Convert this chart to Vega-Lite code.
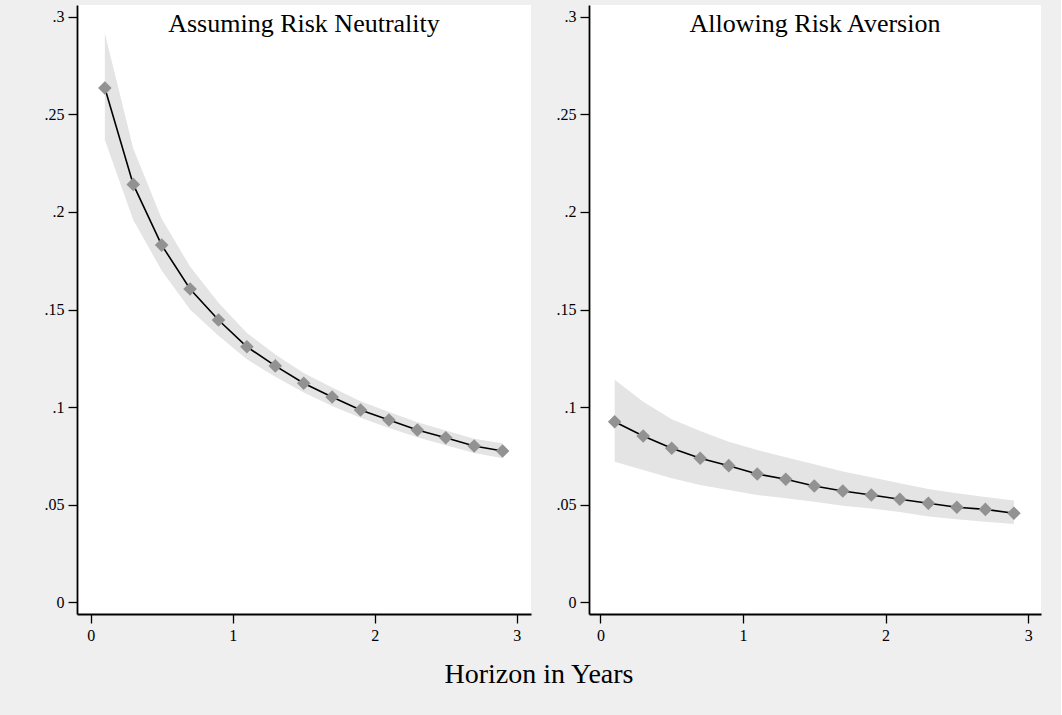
{
  "$schema": "https://vega.github.io/schema/vega-lite/v6.json",
  "background": "#efefef",
  "padding": {"left": 37, "top": 5, "right": 20, "bottom": 27},
  "spacing": 18,
  "config": {
    "view": {"fill": "white", "stroke": null},
    "font": "Liberation Serif",
    "axis": {"domainColor": "black", "domainWidth": 1.8, "tickColor": "black", "tickWidth": 1.3, "labelColor": "black", "labelFont": "Liberation Serif", "labelFontSize": 16, "grid": false},
    "axisY": {"tickSize": 9, "labelPadding": 4, "minExtent": 40, "maxExtent": 40},
    "axisX": {"tickSize": 9, "labelPadding": 4},
    "title": {"font": "Liberation Serif", "fontWeight": "normal", "color": "black"}
  },
  "datasets": {
    "left": [
      {"h": 0.1, "mid": 0.2635, "lo": 0.2368, "hi": 0.2915},
      {"h": 0.3, "mid": 0.2141, "lo": 0.1958, "hi": 0.2325},
      {"h": 0.5, "mid": 0.1830, "lo": 0.1700, "hi": 0.1965},
      {"h": 0.7, "mid": 0.1605, "lo": 0.1500, "hi": 0.1720},
      {"h": 0.9, "mid": 0.1446, "lo": 0.1365, "hi": 0.1535},
      {"h": 1.1, "mid": 0.1309, "lo": 0.1245, "hi": 0.1380},
      {"h": 1.3, "mid": 0.1211, "lo": 0.1155, "hi": 0.1270},
      {"h": 1.5, "mid": 0.1122, "lo": 0.1075, "hi": 0.1175},
      {"h": 1.7, "mid": 0.1052, "lo": 0.1005, "hi": 0.1100},
      {"h": 1.9, "mid": 0.0985, "lo": 0.0945, "hi": 0.1030},
      {"h": 2.1, "mid": 0.0934, "lo": 0.0893, "hi": 0.0975},
      {"h": 2.3, "mid": 0.0883, "lo": 0.0845, "hi": 0.0922},
      {"h": 2.5, "mid": 0.0843, "lo": 0.0805, "hi": 0.0880},
      {"h": 2.7, "mid": 0.0801, "lo": 0.0765, "hi": 0.0838},
      {"h": 2.9, "mid": 0.0775, "lo": 0.0738, "hi": 0.0815}
    ],
    "right": [
      {"h": 0.1, "mid": 0.0925, "lo": 0.0720, "hi": 0.1140},
      {"h": 0.3, "mid": 0.0852, "lo": 0.0678, "hi": 0.1028},
      {"h": 0.5, "mid": 0.0789, "lo": 0.0635, "hi": 0.0938},
      {"h": 0.7, "mid": 0.0738, "lo": 0.0601, "hi": 0.0878},
      {"h": 0.9, "mid": 0.0700, "lo": 0.0575, "hi": 0.0823},
      {"h": 1.1, "mid": 0.0657, "lo": 0.0550, "hi": 0.0780},
      {"h": 1.3, "mid": 0.0630, "lo": 0.0533, "hi": 0.0743},
      {"h": 1.5, "mid": 0.0596, "lo": 0.0515, "hi": 0.0707},
      {"h": 1.7, "mid": 0.0570, "lo": 0.0495, "hi": 0.0670},
      {"h": 1.9, "mid": 0.0550, "lo": 0.0480, "hi": 0.0640},
      {"h": 2.1, "mid": 0.0528, "lo": 0.0462, "hi": 0.0610},
      {"h": 2.3, "mid": 0.0507, "lo": 0.0440, "hi": 0.0580},
      {"h": 2.5, "mid": 0.0487, "lo": 0.0425, "hi": 0.0558},
      {"h": 2.7, "mid": 0.0476, "lo": 0.0412, "hi": 0.0540},
      {"h": 2.9, "mid": 0.0456, "lo": 0.0401, "hi": 0.0521}
    ]
  },
  "title": {"text": "Horizon in Years", "orient": "bottom", "anchor": "middle", "fontSize": 28, "offset": 18},
  "hconcat": [
    {
      "width": 454,
      "height": 609,
      "title": {"text": "Assuming Risk Neutrality", "fontSize": 26, "anchor": "middle", "offset": -32},
      "data": {"name": "left"},
      "encoding": {
        "x": {"field": "h", "type": "quantitative", "scale": {"domain": [-0.096, 3.1], "nice": false, "zero": false}, "axis": {"values": [0, 1, 2, 3], "format": "d", "title": null}}
      },
      "layer": [
        {"mark": {"type": "area", "color": "#e4e4e4"}, "encoding": {"y": {"field": "lo", "type": "quantitative", "scale": {"domain": [-0.006, 0.306], "nice": false, "zero": false}, "axis": {"values": [0, 0.05, 0.1, 0.15, 0.2, 0.25, 0.3], "labelExpr": "datum.value == 0 ? '0' : replace(format(datum.value, '~g'), '0.', '.')", "title": null}}, "y2": {"field": "hi"}}},
        {"mark": {"type": "line", "color": "black", "strokeWidth": 1.6}, "encoding": {"y": {"field": "mid", "type": "quantitative"}}},
        {"mark": {"type": "point", "shape": "diamond", "filled": true, "size": 185, "color": "#929292", "opacity": 1}, "encoding": {"y": {"field": "mid", "type": "quantitative"}}}
      ]
    },
    {
      "width": 452,
      "height": 609,
      "title": {"text": "Allowing Risk Aversion", "fontSize": 26, "anchor": "middle", "offset": -32},
      "data": {"name": "right"},
      "encoding": {
        "x": {"field": "h", "type": "quantitative", "scale": {"domain": [-0.08, 3.09], "nice": false, "zero": false}, "axis": {"values": [0, 1, 2, 3], "format": "d", "title": null}}
      },
      "layer": [
        {"mark": {"type": "area", "color": "#e4e4e4"}, "encoding": {"y": {"field": "lo", "type": "quantitative", "scale": {"domain": [-0.006, 0.306], "nice": false, "zero": false}, "axis": {"values": [0, 0.05, 0.1, 0.15, 0.2, 0.25, 0.3], "labelExpr": "datum.value == 0 ? '0' : replace(format(datum.value, '~g'), '0.', '.')", "title": null}}, "y2": {"field": "hi"}}},
        {"mark": {"type": "line", "color": "black", "strokeWidth": 1.6}, "encoding": {"y": {"field": "mid", "type": "quantitative"}}},
        {"mark": {"type": "point", "shape": "diamond", "filled": true, "size": 185, "color": "#929292", "opacity": 1}, "encoding": {"y": {"field": "mid", "type": "quantitative"}}}
      ]
    }
  ]
}
